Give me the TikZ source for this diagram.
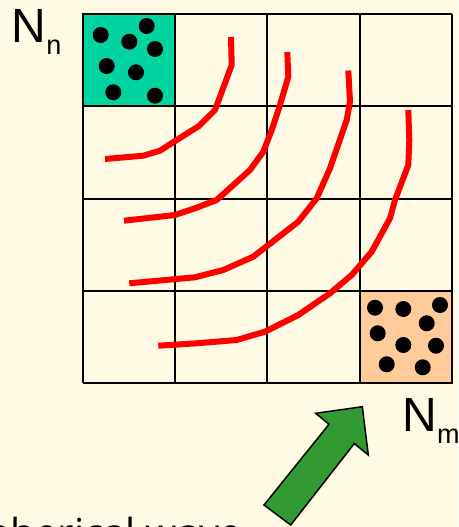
\documentclass[tikz,border=0pt]{standalone}
\usepackage{fontspec}
\setmainfont{Liberation Sans}
\newfontfamily\wavefont{Open Sans}
\definecolor{bgcream}{RGB}{255,250,227}
\definecolor{teal}{RGB}{0,212,160}
\definecolor{peach}{RGB}{255,204,153}
\definecolor{arrowgreen}{RGB}{51,153,51}
\begin{document}
\begin{tikzpicture}[x=1pt,y=-1pt,
  gridline/.style={line width=2pt,black},
  dot/.style={circle,fill=black,inner sep=0pt,minimum size=16pt},
  wave/.style={red,line width=6pt,line join=round},
  biglabel/.style={inner sep=0pt,font=\fontsize{48}{48}\selectfont},
  subl/.style={font=\fontsize{27}{27}\selectfont}]
\useasboundingbox (0,0) rectangle (458,527);
\fill[bgcream] (0,0) rectangle (458,527);
% coloured cells
\fill[teal] (82.5,14) rectangle (175,106);
\fill[peach] (359.5,291) rectangle (452,383);
% grid
\foreach \x in {82.5,175,267,359.5,452} \draw[gridline] (\x,14) -- (\x,383);
\foreach \y in {14,106,198.5,291,383} \draw[gridline] (82.5,\y) -- (452,\y);
\draw[gridline] (82.5,14) rectangle (175,106);
\draw[gridline] (359.5,291) rectangle (452,383);
% dots in source cell
\foreach \p [count=\i] in {(100.7,35),(146.7,26),(129.3,41.7),(155,49),(106.7,66),(136,72.3),(113.3,92.3),(155,95.7)}
  \node[dot] (a\i) at \p {};
% dots in receiver cell
\foreach \p [count=\i] in {(375,307.7),(403.3,309),(440,305),(426.7,323.3),(377.7,333.3),(403.3,345),(436,345.7),(386.7,364.3),(422.7,367.3)}
  \node[dot] (b\i) at \p {};
% wave fronts
\draw[wave] (231,37) -- (231.7,65) -- (215,110) -- (199,126) -- (176.7,140) -- (160,150.7) -- (143.3,155.7) -- (105,159);
\draw[wave] (287.3,52) -- (288.3,76.7) -- (280,105) -- (271.7,130) -- (263.3,151.7) -- (250,170) -- (216.7,200) -- (195,208.3) -- (175,215) -- (124,220.7);
\draw[wave] (348.3,70.5) -- (350,101.7) -- (346.7,120) -- (330,168.3) -- (316.7,198.3) -- (298.3,221.7) -- (253.3,256.7) -- (223.3,270) -- (195,277.3) -- (129.3,283.3);
\draw[wave] (408.3,110) -- (409.3,140) -- (408.3,165) -- (395,200) -- (390,218.3) -- (371.7,251.7) -- (351.7,275) -- (330,293.3) -- (298.3,315) -- (265,331.7) -- (236.7,340) -- (196.7,343.3) -- (158.3,345.7);
% labels
\node[biglabel,anchor=base west] (nn) at (11.5,42.7) {N\raisebox{-11.5pt}{\fontsize{27}{27}\selectfont n}};
\node[biglabel,anchor=base west] (nm) at (402.3,431.7) {N\raisebox{-11.5pt}{\fontsize{27}{27}\selectfont m}};
\node[inner sep=0pt,anchor=base east,font=\wavefont\fontsize{40}{40}\selectfont] (sw) at (242,547) {spherical wave};
% incoming arrow
\draw[fill=arrowgreen,line width=1.5pt,line join=miter] (264,505) -- (329,424.3) -- (315.7,413.3) -- (362.3,406.7) -- (368.3,455) -- (354.3,443.5) -- (290.7,525) -- cycle;
\end{tikzpicture}
\end{document}
